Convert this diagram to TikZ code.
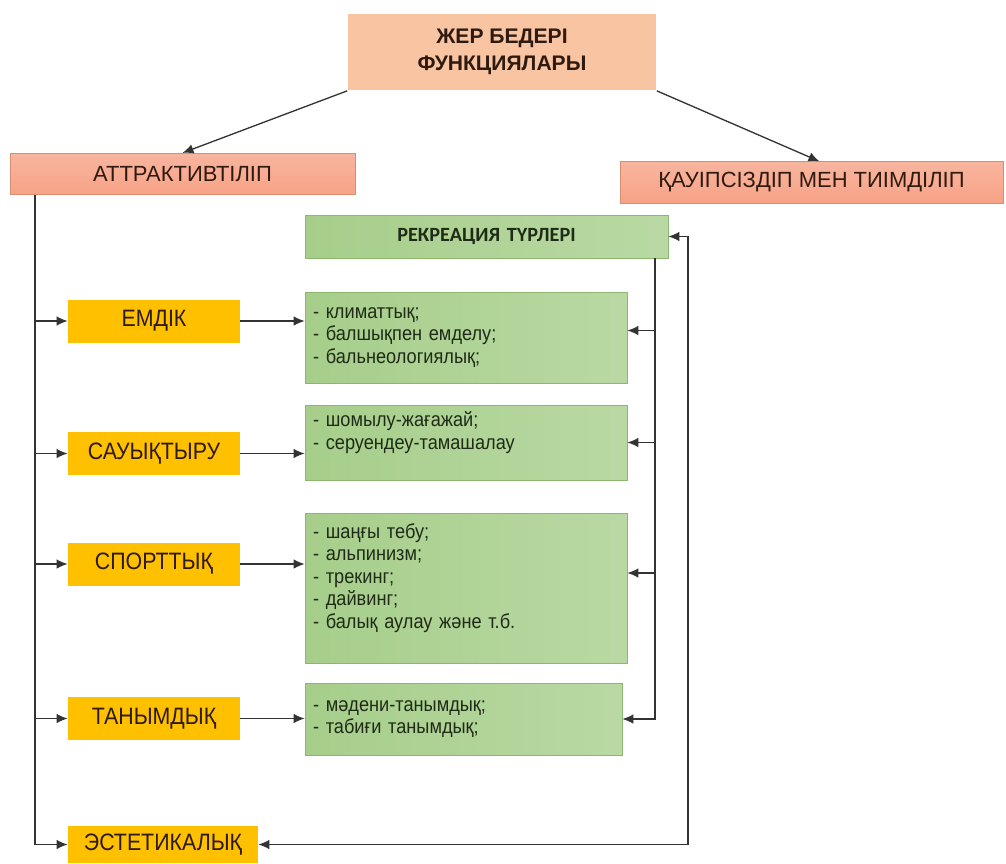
\documentclass[tikz,border=0pt]{standalone}
\usepackage{fontspec}
\setmainfont{Liberation Sans}
\newfontfamily\narrowfont{Liberation Sans}[FakeStretch=0.9]
\newfontfamily\calfont{Carlito}
\usetikzlibrary{arrows.meta}
\definecolor{peach}{HTML}{F8C4A2}
\definecolor{salmon}{HTML}{F7A286}
\definecolor{salmonline}{HTML}{DA8E70}
\definecolor{amber}{HTML}{FFC000}
\definecolor{leaf}{HTML}{A6CE8A}
\definecolor{leafline}{HTML}{8BB771}
\definecolor{inkbrown}{HTML}{2E1A10}
\definecolor{inkgreen}{HTML}{1F2B17}
\definecolor{wire}{HTML}{333333}

\begin{document}
\begin{tikzpicture}[x=0.02cm,y=-0.02cm,>=Latex,
  title/.style={fill=peach,minimum width=6.18cm,minimum height=1.54cm,align=center,
    inner sep=2pt,font=\fontsize{12}{15.5}\selectfont\bfseries,text=inkbrown},
  head/.style={draw=salmonline,line width=0.4pt,top color=salmon!80!white,
    bottom color=salmon,minimum height=0.83cm,inner sep=2pt,
    font=\fontsize{12.5}{14}\selectfont,text=inkbrown},
  kind/.style={fill=amber,minimum width=3.44cm,minimum height=0.86cm,inner sep=2pt,
    font=\narrowfont\fontsize{13.5}{15}\selectfont,text=inkbrown},
  list/.style={draw=leafline,line width=0.4pt,left color=leaf,right color=leaf!78!white,
    align=left,inner xsep=0.16cm,inner ysep=3pt,
    font=\narrowfont\fontsize{11.5}{12.8}\selectfont,text=inkgreen},
  arr/.style={-{Latex[length=2.2mm,width=1.9mm]},line width=0.75pt,wire},
  link/.style={{Latex[length=2.2mm,width=1.9mm]}-{Latex[length=2.2mm,width=1.9mm]},
    line width=0.75pt,wire}]

\useasboundingbox (0,0) rectangle (1006,863);

\node[title] (title) at (502,52) {ЖЕР БЕДЕРІ\\ФУНКЦИЯЛАРЫ};
\node[head,minimum width=6.9cm] (attr) at (182.5,174) {АТТРАКТИВТІЛІП};
\node[head,minimum width=7.66cm] (safe) at (811.5,182.5) {ҚАУІПСІЗДІП МЕН ТИІМДІЛІП};
\draw[arr] (title.south west) -- (attr.north);
\draw[arr] (title.south east) -- ([xshift=0.16cm]safe.north);

\node[list,align=center,text width=6.94cm,minimum height=0.86cm,
  font=\calfont\fontsize{11.5}{13}\selectfont\bfseries] (rtype) at (486.5,236.5) {РЕКРЕАЦИЯ ТҮРЛЕРІ};

\node[kind] (emdik) at (154,321) {ЕМДІК};
\node[kind] (sauyq) at (154,453.5) {САУЫҚТЫРУ};
\node[kind] (sport) at (154,564) {СПОРТТЫҚ};
\node[kind] (tanym) at (154,718.5) {ТАНЫМДЫҚ};
\node[kind,minimum width=3.8cm,minimum height=0.74cm] (estet) at (163,844.5) {ЭСТЕТИКАЛЫҚ};

\node[list,text width=6.12cm,minimum height=1.82cm] (g1) at (466,337.5)
  {- климаттық;\\- балшықпен емделу;\\- бальнеологиялық;};
\node[list,text width=6.12cm,minimum height=1.5cm] (g2) at (466,442.5)
  {- шомылу-жағажай;\\- серуендеу-тамашалау\par\vspace{0.4cm}};
\node[list,text width=6.12cm,minimum height=3.0cm] (g3) at (466,588)
  {- шаңғы тебу;\\- альпинизм;\\- трекинг;\\- дайвинг;\\- балық аулау және т.б.\par\vspace{0.4cm}};
\node[list,text width=6.02cm,minimum height=1.44cm] (g4) at (463.5,719)
  {- мәдени-танымдық;\\- табиғи танымдық;};

\coordinate (lb) at (35,0);
\coordinate (ri) at (655,0);
\coordinate (ro) at (688,0);

\draw[arr] (attr.south -| lb) |- (estet.west);
\draw[arr] (emdik.west -| lb) -- (emdik.west); \draw[arr] (sauyq.west -| lb) -- (sauyq.west);
\draw[arr] (sport.west -| lb) -- (sport.west); \draw[arr] (tanym.west -| lb) -- (tanym.west);

\draw[arr] (emdik.east) -- (emdik.east -| g1.west); \draw[arr] (sauyq.east) -- (sauyq.east -| g2.west);
\draw[arr] (sport.east) -- (sport.east -| g3.west); \draw[arr] (tanym.east) -- (tanym.east -| g4.west);

\draw[arr] (rtype.south -| ri) |- (g4.east);
\draw[arr] ([yshift=0.14cm]g1.east -| ri) -- ([yshift=0.14cm]g1.east);
\draw[arr] (g2.east -| ri) -- (g2.east);
\draw[arr] ([yshift=0.3cm]g3.east -| ri) -- ([yshift=0.3cm]g3.east);

\draw[link] (rtype.east) -- (rtype.east -| ro) |- (estet.east);
\end{tikzpicture}
\end{document}
